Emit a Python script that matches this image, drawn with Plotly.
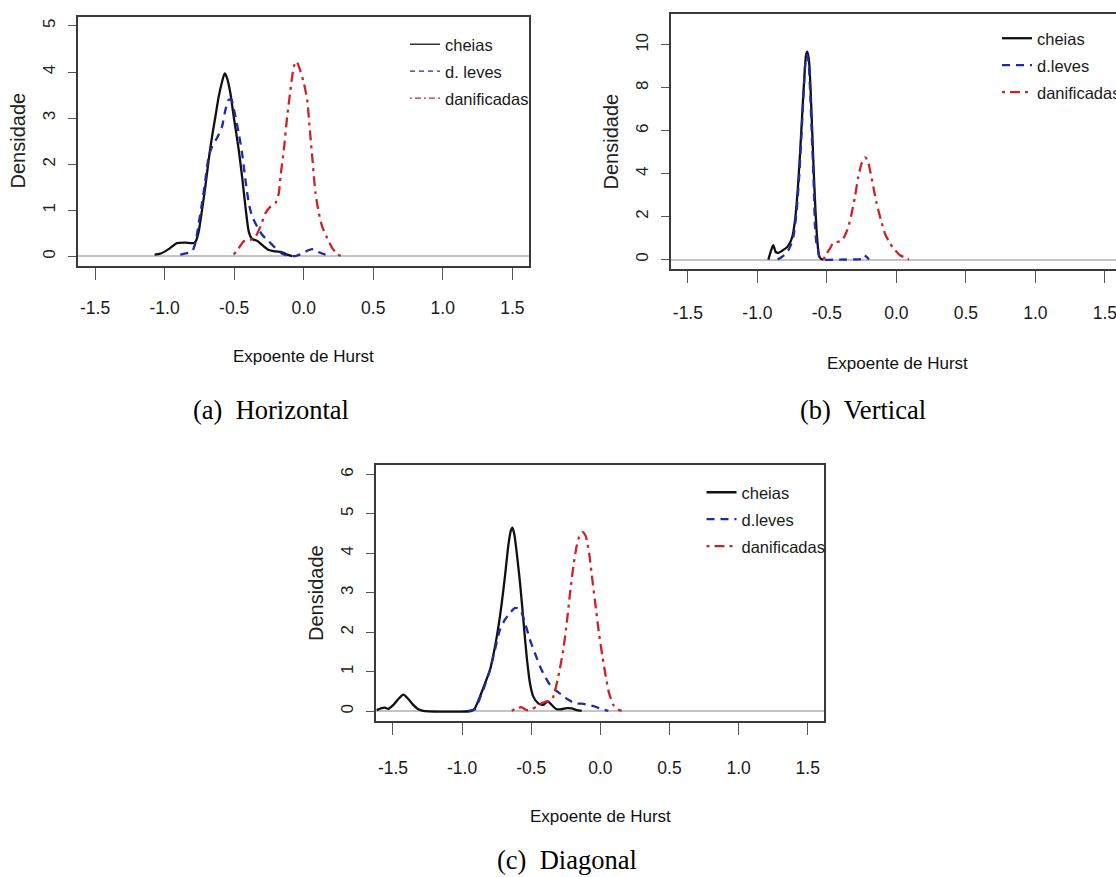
import plotly.graph_objects as go

# ---------------- data ----------------
series_names = ["cheias", "d. leves", "danificadas"]
series_names_bc = ["cheias", "d.leves", "danificadas"]

x_tick_vals = [-1.5, -1.0, -0.5, 0.0, 0.5, 1.0, 1.5]
x_tick_text = ["-1.5", "-1.0", "-0.5", "0.0", "0.5", "1.0", "1.5"]
y_ticks_a = [0, 1, 2, 3, 4, 5]
y_ticks_b = [0, 2, 4, 6, 8, 10]
y_ticks_c = [0, 1, 2, 3, 4, 5, 6]

# (a) Horizontal
a_cheias_x = [-1.072, -1.031, -0.971, -0.911, -0.851, -0.791, -0.774, -0.755, -0.731, -0.707,
              -0.683, -0.659, -0.635, -0.611, -0.587, -0.568, -0.551, -0.527, -0.503, -0.467,
              -0.443, -0.419, -0.395, -0.371, -0.335, -0.299, -0.251, -0.203, -0.155, -0.119, -0.083]
a_cheias_y = [0.04, 0.06, 0.16, 0.29, 0.30, 0.29, 0.34, 0.54, 1.01, 1.52,
              2.10, 2.60, 3.03, 3.47, 3.79, 3.97, 3.87, 3.54, 3.03, 2.31,
              1.73, 1.08, 0.54, 0.38, 0.34, 0.25, 0.14, 0.11, 0.09, 0.04, 0.01]
a_leves_x = [-0.887, -0.803, -0.779, -0.755, -0.731, -0.707, -0.683, -0.659, -0.623, -0.587,
             -0.563, -0.539, -0.520, -0.496, -0.467, -0.443, -0.419, -0.395, -0.371, -0.335,
             -0.299, -0.251, -0.203, -0.155, -0.107, -0.059, -0.011, 0.037, 0.073, 0.109, 0.157, 0.193]
a_leves_y = [0.04, 0.11, 0.29, 0.72, 1.16, 1.66, 2.17, 2.38, 2.57, 2.82,
             3.18, 3.40, 3.40, 3.11, 2.67, 2.24, 1.66, 1.16, 0.87, 0.65,
             0.47, 0.33, 0.18, 0.06, 0.01, 0.01, 0.06, 0.14, 0.16, 0.09, 0.04, 0.01]
a_danif_x = [-0.503, -0.467, -0.431, -0.383, -0.347, -0.311, -0.275, -0.239, -0.203, -0.179,
             -0.167, -0.143, -0.119, -0.095, -0.071, -0.052, -0.030, 0.001, 0.025, 0.042,
             0.061, 0.085, 0.109, 0.133, 0.169, 0.205, 0.241, 0.265]
a_danif_y = [0.04, 0.18, 0.33, 0.36, 0.43, 0.65, 0.94, 1.08, 1.16, 1.37,
             1.73, 2.31, 3.03, 3.61, 4.12, 4.23, 4.08, 3.76, 3.40, 2.82,
             2.17, 1.37, 0.94, 0.65, 0.40, 0.18, 0.06, 0.01]

# (b) Vertical
b_cheias_x = [-0.921, -0.897, -0.885, -0.869, -0.849, -0.825, -0.789, -0.765, -0.749, -0.729,
              -0.710, -0.693, -0.677, -0.662, -0.650, -0.641, -0.629, -0.617, -0.605, -0.593,
              -0.581, -0.569, -0.557, -0.542, -0.525]
b_cheias_y = [0.0, 0.51, 0.67, 0.36, 0.31, 0.40, 0.56, 0.78, 1.06, 1.84,
              3.23, 4.95, 6.81, 8.52, 9.53, 9.69, 9.30, 7.90, 5.88, 3.86,
              2.15, 0.90, 0.20, 0.03, 0.0]
b_leves_x = [-0.854, -0.825, -0.789, -0.765, -0.741, -0.717, -0.698, -0.681, -0.665, -0.653,
             -0.643, -0.631, -0.619, -0.607, -0.595, -0.585, -0.575, -0.565, -0.553, -0.513,
             -0.400, -0.300, -0.250, -0.231, -0.214, -0.197]
b_leves_y = [0.0, 0.12, 0.31, 0.59, 1.06, 2.30, 4.01, 6.03, 8.06, 9.30,
             9.53, 9.14, 7.59, 5.57, 3.55, 1.52, 0.75, 0.51, 0.12, 0.0,
             0.0, 0.01, 0.03, 0.20, 0.12, 0.0]
b_danif_x = [-0.526, -0.502, -0.478, -0.454, -0.430, -0.399, -0.375, -0.346, -0.322, -0.298,
             -0.274, -0.250, -0.226, -0.207, -0.190, -0.166, -0.142, -0.111, -0.082, -0.046,
             -0.010, 0.026, 0.062, 0.090]
b_danif_y = [0.0, 0.28, 0.51, 0.78, 0.82, 0.86, 1.06, 1.52, 2.15, 2.92,
             3.86, 4.48, 4.76, 4.63, 4.17, 3.39, 2.61, 1.84, 1.21, 0.75,
             0.44, 0.20, 0.09, 0.0]

# (c) Diagonal
c_cheias_x = [-1.618, -1.582, -1.558, -1.534, -1.497, -1.461, -1.425, -1.389, -1.353, -1.317,
              -1.281, -0.931, -0.907, -0.871, -0.834, -0.798, -0.762, -0.726, -0.690, -0.666,
              -0.648, -0.636, -0.622, -0.605, -0.581, -0.557, -0.533, -0.509, -0.485, -0.449,
              -0.413, -0.381, -0.352, -0.316, -0.280, -0.243, -0.207, -0.171, -0.135]
c_cheias_y = [0.03, 0.08, 0.09, 0.06, 0.16, 0.31, 0.42, 0.31, 0.16, 0.05,
              0.01, 0.01, 0.08, 0.37, 0.71, 1.05, 1.64, 2.41, 3.42, 4.19,
              4.57, 4.65, 4.48, 4.02, 3.25, 2.32, 1.39, 0.71, 0.37, 0.20,
              0.16, 0.25, 0.16, 0.05, 0.05, 0.08, 0.07, 0.03, 0.01]
c_leves_x = [-0.955, -0.907, -0.871, -0.834, -0.798, -0.762, -0.726, -0.690, -0.654, -0.617,
             -0.581, -0.545, -0.509, -0.473, -0.437, -0.401, -0.364, -0.328, -0.280, -0.231,
             -0.183, -0.135, -0.087, -0.039, 0.010, 0.058]
c_leves_y = [0.01, 0.05, 0.33, 0.67, 1.05, 1.56, 2.07, 2.32, 2.49, 2.62,
             2.58, 2.24, 1.81, 1.47, 1.14, 0.88, 0.67, 0.54, 0.42, 0.29,
             0.20, 0.19, 0.16, 0.12, 0.05, 0.01]
c_danif_x = [-0.641, -0.605, -0.569, -0.533, -0.497, -0.461, -0.425, -0.388, -0.364, -0.340,
             -0.304, -0.268, -0.243, -0.219, -0.195, -0.171, -0.147, -0.128, -0.106, -0.082,
             -0.058, -0.034, -0.010, 0.015, 0.039, 0.063, 0.094, 0.125, 0.154]
c_danif_y = [0.01, 0.08, 0.10, 0.03, 0.05, 0.12, 0.20, 0.25, 0.25, 0.37,
             0.88, 1.56, 2.24, 3.00, 3.68, 4.19, 4.48, 4.54, 4.44, 4.02,
             3.34, 2.66, 1.98, 1.39, 0.88, 0.46, 0.16, 0.05, 0.01]

# ---------------- styling ----------------
W, H = 1116, 877
BLACK = "#111111"
BLUE = "#1f2ba5"
RED = "#cc2229"
colors = [BLACK, BLUE, RED]
dashes = ["solid", "8px,6px", "3px,5px,10px,5px"]
NARROW = "Liberation Sans Narrow, Arial Narrow, Liberation Sans, Arial, sans-serif"
SANS = "Liberation Sans, Arial, Helvetica, sans-serif"
SERIF = "Liberation Serif, Times New Roman, serif"

def px_x(p):
    return p / W

def px_y(p):
    return 1 - p / H

fig = go.Figure()

panels = [
    dict(ax="", xs=[a_cheias_x, a_leves_x, a_danif_x], ys=[a_cheias_y, a_leves_y, a_danif_y],
         legend="legend", names=series_names),
    dict(ax="2", xs=[b_cheias_x, b_leves_x, b_danif_x], ys=[b_cheias_y, b_leves_y, b_danif_y],
         legend="legend2", names=series_names_bc),
    dict(ax="3", xs=[c_cheias_x, c_leves_x, c_danif_x], ys=[c_cheias_y, c_leves_y, c_danif_y],
         legend="legend3", names=series_names_bc),
]

for pi, p in enumerate(panels):
    for i in range(3):
        fig.add_trace(go.Scatter(
            x=p["xs"][i], y=p["ys"][i], mode="lines",
            line=dict(color=colors[i], width=2.3, dash=dashes[i], shape="spline", smoothing=0.6),
            name=p["names"][i], xaxis="x" + p["ax"], yaxis="y" + p["ax"],
            legend=p["legend"], showlegend=(pi != 0), legendgroup="p%d_%d" % (pi, i),
        ))
# thin legend samples for panel (a)
for i in range(3):
    fig.add_trace(go.Scatter(
        x=[None], y=[None], mode="lines",
        line=dict(color=colors[i], width=1.3, dash=["solid", "5px,4px", "2px,3px,6px,3px"][i]),
        name=series_names[i], xaxis="x", yaxis="y", legend="legend", showlegend=True,
        legendgroup="a_%d" % i,
    ))

def xaxis(domain, anchor, standoff):
    return dict(domain=domain, anchor=anchor, range=[-1.625, 1.62] if domain[1] < 1 else [-1.625, 1.58],
                tickvals=x_tick_vals, ticktext=x_tick_text, ticks="outside", ticklen=12,
                tickwidth=1.3, tickcolor="#555555", showline=True, mirror=True,
                linecolor="#3a3a3a", linewidth=1.8, showgrid=False, zeroline=False,
                tickfont=dict(family=NARROW, size=17.5, color="#1a1a1a"),
                ticklabelstandoff=standoff, ticklabeloverflow="allow")

def yaxis(domain, anchor, rng, vals, mirror=True):
    return dict(domain=domain, anchor=anchor, range=rng, tickvals=vals, ticks="outside",
                ticklen=8, tickwidth=1.3, tickcolor="#555555", showline=True, mirror=mirror,
                linecolor="#3a3a3a", linewidth=1.8, showgrid=False,
                zeroline=True, zerolinecolor="#c4c4c4", zerolinewidth=1.8,
                tickangle=-90, tickfont=dict(family=SANS, size=17, color="#222222"),
                ticklabelstandoff=6)

leg_common = dict(bgcolor="rgba(0,0,0,0)", borderwidth=0, font=dict(family=NARROW, size=16.5, color="#1a1a1a"),
                  xanchor="left", yanchor="top", tracegroupgap=2.5)

fig.update_layout(
    width=W, height=H, margin=dict(l=0, r=0, t=0, b=0, autoexpand=False),
    paper_bgcolor="white", plot_bgcolor="white",
    xaxis=xaxis([px_x(77.7), px_x(529)], "y", 13),
    yaxis=yaxis([px_y(265.7), px_y(16.7)], "x", [-0.2, 5.2], y_ticks_a),
    xaxis2=xaxis([px_x(670.5), 1.0], "y2", 15),
    yaxis2=yaxis([px_y(269), px_y(14)], "x2", [-0.44, 11.44], y_ticks_b, mirror=False),
    xaxis3=xaxis([px_x(375.7), px_x(824.3)], "y3", 18),
    yaxis3=yaxis([px_y(720.7), px_y(465)], "x3", [-0.24, 6.24], y_ticks_c),
    legend=dict(x=px_x(405), y=px_y(27), **leg_common),
    legend2=dict(x=px_x(997), y=px_y(21), **leg_common),
    legend3=dict(x=px_x(701.5), y=px_y(475), **leg_common),
)

annotations = []
# axis titles
for (cx, cy) in [(303.3, 356.7), (897, 363), (600, 816.7)]:
    annotations.append(dict(text="Expoente de Hurst", x=px_x(cx), y=px_y(cy), xref="paper", yref="paper",
                            showarrow=False, xanchor="center", yanchor="middle",
                            font=dict(family=NARROW, size=17, color="#111111")))
for (cx, cy) in [(17.5, 141), (610, 141.5), (316, 593)]:
    annotations.append(dict(text="Densidade", x=px_x(cx), y=px_y(cy), xref="paper", yref="paper",
                            showarrow=False, xanchor="center", yanchor="middle", textangle=-90,
                            font=dict(family=SANS, size=20, color="#222222")))
# captions
for (txt, cx, cy) in [("(a)  Horizontal", 270.7, 410), ("(b)  Vertical", 863, 410), ("(c)  Diagonal", 566.7, 860)]:
    annotations.append(dict(text=txt, x=px_x(cx), y=px_y(cy), xref="paper", yref="paper",
                            showarrow=False, xanchor="center", yanchor="middle",
                            font=dict(family=SERIF, size=26.5, color="#000000")))
fig.update_layout(annotations=annotations)

fig.write_html("out.html")
